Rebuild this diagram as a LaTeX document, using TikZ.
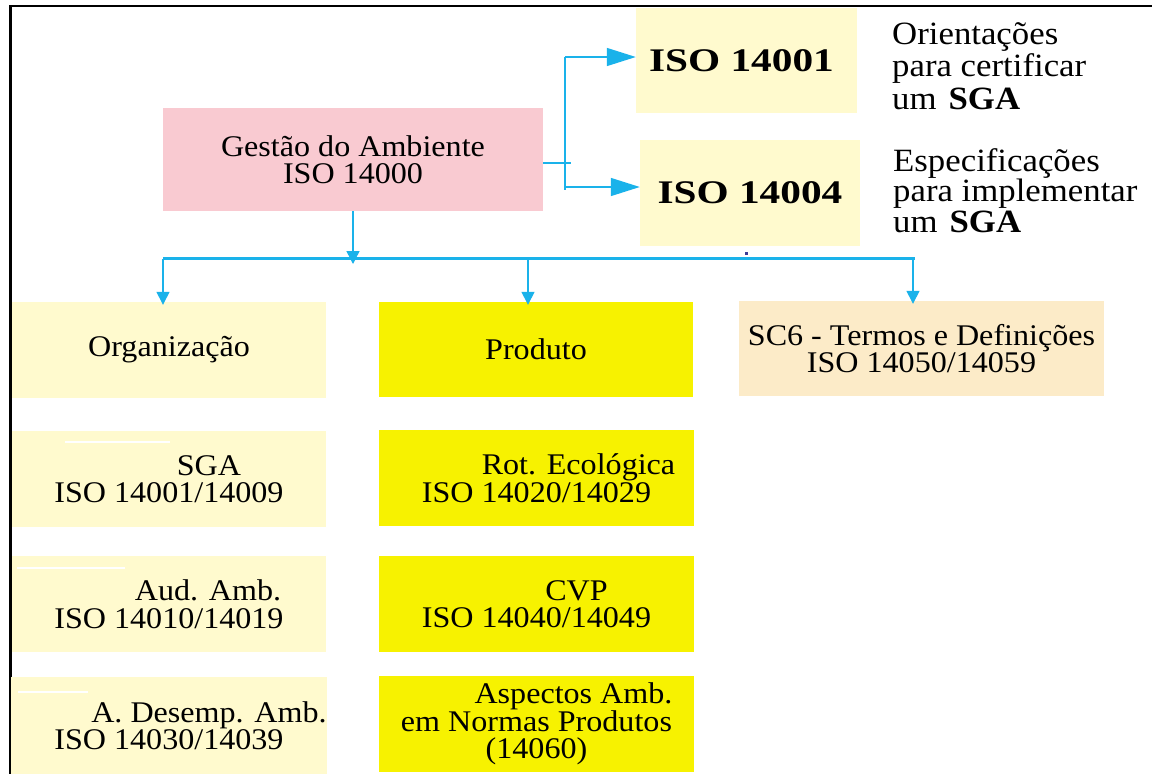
\documentclass[tikz,border=0pt]{standalone}
\usepackage{fontspec}
\usepackage{graphicx}
\setmainfont{Liberation Serif}[FakeStretch=1.07]
\usetikzlibrary{arrows.meta}

\definecolor{pinkbox}{RGB}{249,202,209}
\definecolor{paleyel}{RGB}{255,250,206}
\definecolor{brightyel}{RGB}{247,242,0}
\definecolor{tanbox}{RGB}{252,235,200}
\definecolor{linkblue}{RGB}{26,178,234}
\definecolor{specknavy}{RGB}{60,60,150}

\begin{document}
\begin{tikzpicture}[x=1pt,y=-1pt,
  cell/.style={rectangle, inner sep=0pt, align=center,
    font=\fontsize{30}{27.5}\selectfont},
  side/.style={inner sep=0pt, align=left,
    font=\fontsize{32.5}{30.5}\selectfont},
  bigcode/.style={font=\fontsize{33}{33}\selectfont\bfseries},
  conn/.style={draw=linkblue, line width=1.4pt},
  busline/.style={draw=linkblue, line width=3.2pt},
  droptip/.style={-{Triangle[length=13pt,width=13pt]}},
  bigtip/.style={-{Triangle[length=29pt,width=18pt]}}
]
\useasboundingbox (0,0) rectangle (1152,774);
\fill[white] (0,0) rectangle (1152,774);

% frame along the top and left edges
\draw[line width=2pt] (1152,6) -- (9,6);
\draw[line width=3pt] (10,5) -- (10,774);

% top level
\node[cell, fill=pinkbox, minimum width=380pt, minimum height=103pt]
  (gestao) at (353,159.5) {Gestão do Ambiente\\ISO 14000};
\node[cell, bigcode, fill=paleyel, minimum width=221pt, minimum height=105pt]
  (iso1) at (746.5,60.5) {\raisebox{-3pt}{\scalebox{1.17}[1]{ISO 14001}}\hspace*{10pt}};
\node[cell, bigcode, fill=paleyel, minimum width=220pt, minimum height=106pt]
  (iso4) at (750,193) {\raisebox{-2pt}{\scalebox{1.17}[1]{ISO 14004}}};

\node[side, anchor=north west, font=\fontsize{32.5}{32.5}\selectfont] (orient) at (892,22)
  {Orientações\\para certificar\\um\hspace{12pt}\textbf{SGA}};
\node[side, anchor=north west] (espec) at (893,148)
  {Especificações\\para implementar\\um\hspace{12pt}\textbf{SGA}};

% second level
\node[cell, fill=paleyel, minimum width=314pt, minimum height=96pt]
  (org) at (169,350) {Organização};
\node[cell, fill=brightyel, minimum width=314pt, minimum height=95pt]
  (prod) at (536,349.5) {Produto};
\node[cell, fill=tanbox, minimum width=365pt, minimum height=95pt]
  (sc6) at (921.5,348.5) {SC6 - Termos e Definições\\ISO 14050/14059};

% organisation column
\node[cell, fill=paleyel, minimum width=314pt, minimum height=96pt]
  (sga) at (169,479) {\hspace*{80pt}SGA\\ISO 14001/14009};
\node[cell, fill=paleyel, minimum width=314pt, minimum height=96pt]
  (aud) at (169,604) {\hspace*{78pt}Aud. Amb.\\ISO 14010/14019};
\node[cell, fill=paleyel, minimum width=314pt, minimum height=97pt]
  (desemp) at (169,725.5) {\hspace*{80pt}A. Desemp. Amb.\\ISO 14030/14039};

% product column
\node[cell, fill=brightyel, minimum width=315pt, minimum height=96pt]
  (rot) at (536.5,478) {\hspace*{84pt}Rot. Ecológica\\ISO 14020/14029};
\node[cell, fill=brightyel, minimum width=315pt, minimum height=96pt]
  (cvp) at (536.5,604) {\hspace*{80pt}CVP\\ISO 14040/14049};
\node[cell, fill=brightyel, minimum width=315pt, minimum height=96pt]
  (asp) at (536.5,724) {\hspace*{74pt}Aspectos Amb.\\em Normas Produtos\\(14060)};

% white rules across the tops of the left cells
\draw[white, line width=1.5pt] (65,442) -- (170,442);
\draw[white, line width=1.5pt] (17,568) -- (125,568);
\draw[white, line width=1.5pt] (18,692) -- (88,692);

% fork towards ISO 14001 / ISO 14004
\coordinate (fork) at (565,163);
\coordinate (forkTop) at (565,57);
\coordinate (forkBot) at (565,187);
\draw[conn] (gestao.east |- fork) -- ([xshift=6pt]fork);
\draw[conn] (forkTop) -- ([yshift=-3pt]forkBot);
\draw[conn, bigtip] (forkTop) -- (forkTop -| iso1.west);
\draw[conn, bigtip] (forkBot) -- (forkBot -| iso4.west);

% distribution bus to the second level
\coordinate (busL) at (163,258.5);
\coordinate (busR) at (915,258.5);
\coordinate (busTip) at (353,264);
\coordinate (dOrg) at ([xshift=-6pt]org.north);
\coordinate (dProd) at ([xshift=-8pt]prod.north);
\coordinate (dSc) at ([xshift=-8.5pt]sc6.north);
\draw[busline] (busL) -- (busR);
\draw[conn, droptip] (gestao.south) -- (gestao.south |- busTip);
\draw[conn, droptip] (dOrg |- busL) -- ([yshift=-3pt]dOrg);
\draw[conn, droptip] (dProd |- busL) -- ([yshift=-3pt]dProd);
\draw[conn, droptip] (dSc |- busL) -- ([yshift=-3pt]dSc);

% small speck above the bus
\fill[specknavy] (745,252) rectangle (748,255);
\end{tikzpicture}
\end{document}
